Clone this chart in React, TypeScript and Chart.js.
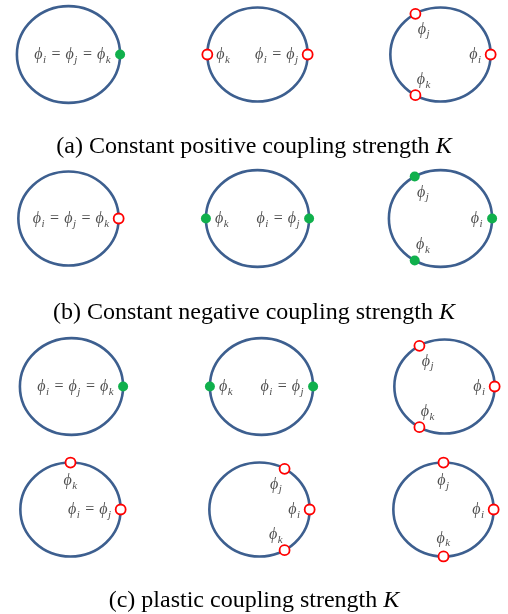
import React, { useEffect, useRef } from "react";
import { Chart, registerables } from "chart.js";
Chart.register(...registerables);

// ---- data: phases (degrees) of oscillators i, j, k in each of the 12 panels ----
const oscillators = ["i", "j", "k"];
const phaseI = [0, 0, 0, 0, 0, 0, 0, 0, 0, 0, 0, 0];
const phaseJ = [0, 0, 120, 0, 0, 120, 0, 0, 120, 0, 60, 90];
const phaseK = [0, 180, 240, 0, 180, 240, 0, 180, 240, 90, 300, 270];
const stable = [true, false, false, false, true, true, true, true, false, false, false, false];
const captions = [
  "(a) Constant positive coupling strength ",
  "(b) Constant negative coupling strength ",
  "(c) plastic coupling strength ",
];
const captionSymbol = "K";

// ---- layout & style ----
const rowCenters = [54.5, 218.5, 386.5, 509];
const colCenters = [
  [68, 257, 440],
  [68.5, 257.5, 440],
  [71.5, 261, 444.5],
  [70.5, 259.5, 443],
];
const captionBaselines = [153.5, 319.5, 607];
const CAPTION_SIZE = 24;
const CW = 139;
const CH = 131;
const RING = "#3d5f8f";
const GREEN = "#10b04c";
const RED = "#ff0000";
const LABEL = "#505050";

const ringPlugin = {
  id: "ring",
  beforeDatasetsDraw(chart: any) {
    const { x, y } = chart.scales;
    const cx = x.getPixelForValue(0);
    const cy = y.getPixelForValue(0);
    const rx = x.getPixelForValue(1) - cx;
    const ry = cy - y.getPixelForValue(1);
    const ctx = chart.ctx;
    ctx.save();
    ctx.beginPath();
    ctx.ellipse(cx, cy, rx, ry, 0, 0, Math.PI * 2);
    ctx.strokeStyle = RING;
    ctx.lineWidth = 2.6;
    ctx.stroke();
    ctx.restore();
  },
};

const MAIN_FONT = "italic 16px 'Liberation Serif', 'DejaVu Serif', serif";
const SUB_FONT = "italic 11px 'Liberation Serif', 'DejaVu Serif', serif";
const EQ_FONT = "16px 'Liberation Serif', 'DejaVu Serif', serif";

function mathRuns(ctx: CanvasRenderingContext2D, names: string[]) {
  const runs: { t: string; font: string; dy: number; w: number; pad: number }[] = [];
  names.forEach((n, idx) => {
    if (idx > 0) {
      ctx.font = EQ_FONT;
      runs.push({ t: "=", font: EQ_FONT, dy: 0, w: ctx.measureText("=").width, pad: 5 });
    }
    ctx.font = MAIN_FONT;
    runs.push({ t: "\u03D5", font: MAIN_FONT, dy: 0, w: ctx.measureText("\u03D5").width, pad: 0 });
    ctx.font = SUB_FONT;
    runs.push({ t: n, font: SUB_FONT, dy: 3.5, w: ctx.measureText(n).width, pad: 0.5 });
  });
  const total = runs.reduce((s, r) => s + r.w + 2 * r.pad, 0);
  return { runs, total };
}

const labelPlugin = {
  id: "phaseLabels",
  afterDatasetsDraw(chart: any) {
    const ctx: CanvasRenderingContext2D = chart.ctx;
    const { x, y } = chart.scales;
    const pts = chart.data.datasets[0].data;
    ctx.save();
    ctx.fillStyle = LABEL;
    ctx.textBaseline = "alphabetic";
    ctx.textAlign = "left";
    pts.forEach((p: any) => {
      const px = x.getPixelForValue(p.x);
      const py = y.getPixelForValue(p.y);
      const { runs, total } = mathRuns(ctx, p.names);
      let sx: number;
      let ay: number;
      if (p.deg === 0) {
        sx = px - 9 - total;
        ay = py;
      } else if (p.deg === 180) {
        sx = px + 9;
        ay = py;
      } else {
        const cx = px - p.x * 17;
        ay = py + p.y * 18;
        sx = cx - total / 2;
      }
      const base = ay + 4.5;
      let cur = sx;
      runs.forEach((r) => {
        cur += r.pad;
        ctx.font = r.font;
        ctx.fillText(r.t, cur, base + r.dy);
        cur += r.w + r.pad;
      });
    });
    ctx.restore();
  },
};

function Panel({ index, cx, cy }: { index: number; cx: number; cy: number }) {
  const ref = useRef<HTMLCanvasElement>(null);
  useEffect(() => {
    const phases = [phaseI[index], phaseJ[index], phaseK[index]];
    const groups: { deg: number; names: string[] }[] = [];
    phases.forEach((p, n) => {
      const g = groups.find((g) => g.deg === p);
      if (g) g.names.push(oscillators[n]);
      else groups.push({ deg: p, names: [oscillators[n]] });
    });
    const data = groups.map((g) => ({
      x: Math.cos((g.deg * Math.PI) / 180),
      y: Math.sin((g.deg * Math.PI) / 180),
      deg: g.deg,
      names: g.names,
    }));
    const ok = stable[index];
    const chart = new Chart(ref.current as HTMLCanvasElement, {
      type: "scatter",
      data: {
        datasets: [
          {
            data: data as any,
            pointRadius: 5,
            pointHoverRadius: 5,
            pointBackgroundColor: ok ? GREEN : "#ffffff",
            pointBorderColor: ok ? GREEN : RED,
            pointBorderWidth: ok ? 0 : 1.8,
            clip: false as any,
          },
        ],
      },
      options: {
        animation: false,
        responsive: false,
        events: [],
        layout: { padding: 0 },
        plugins: { legend: { display: false }, tooltip: { enabled: false } },
        scales: {
          x: { type: "linear", min: -1.25, max: 1.25, display: false },
          y: { type: "linear", min: -1.25, max: 1.25, display: false },
        },
      },
      plugins: [ringPlugin, labelPlugin],
    });
    return () => chart.destroy();
  }, [index]);
  return (
    <canvas
      ref={ref}
      width={CW}
      height={CH}
      style={{ position: "absolute", left: cx - CW / 2, top: cy - CH / 2, width: CW, height: CH }}
    />
  );
}

export default function App() {
  const panels: React.ReactNode[] = [];
  for (let r = 0; r < 4; r++) {
    for (let c = 0; c < 3; c++) {
      const idx = r * 3 + c;
      panels.push(<Panel key={idx} index={idx} cx={colCenters[r][c]} cy={rowCenters[r]} />);
    }
  }
  const baseOffset = 0.891 * CAPTION_SIZE - (0.107 * CAPTION_SIZE) / 2;
  return (
    <div style={{ position: "absolute", left: 0, top: 0, width: 508, height: 614, background: "#fff", overflow: "hidden" }}>
      {panels}
      {captions.map((t, i) => (
        <div
          key={i}
          style={{
            position: "absolute",
            left: 0,
            width: 508,
            top: captionBaselines[i] - baseOffset,
            textAlign: "center",
            fontFamily: "'Liberation Serif', 'Times New Roman', serif",
            fontSize: CAPTION_SIZE,
            lineHeight: `${CAPTION_SIZE}px`,
            color: "#000",
            whiteSpace: "nowrap",
          }}
        >
          {t}
          <i>{captionSymbol}</i>
        </div>
      ))}
    </div>
  );
}
